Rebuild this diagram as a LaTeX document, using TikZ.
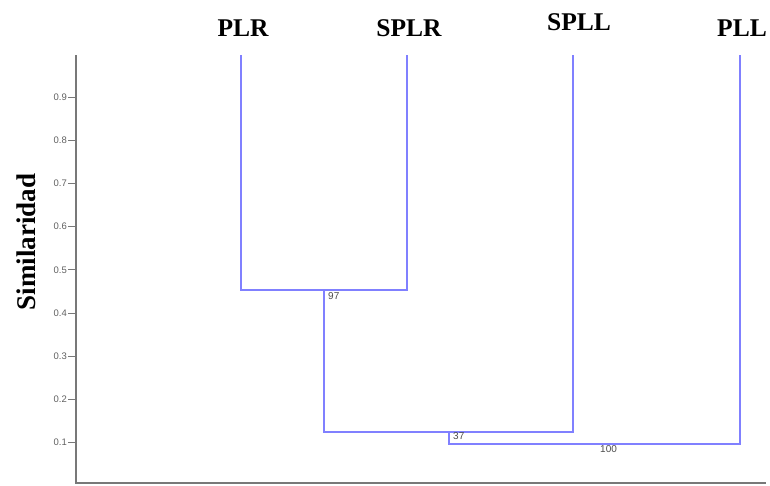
\documentclass[tikz,border=0pt]{standalone}
\usepackage{fontspec}
\setmainfont{Liberation Serif}
\newfontfamily\ticksans{Liberation Sans}
\definecolor{dendro}{RGB}{128,128,255}
\definecolor{axisgrey}{RGB}{120,120,120}
\begin{document}
\begin{tikzpicture}[x=1pt,y=-1pt,
  branch/.style={draw=dendro,line width=1.8pt},
  leaflabel/.style={font=\fontsize{25.5}{26}\selectfont\bfseries,inner sep=0pt},
  ticklabel/.style={font=\ticksans\fontsize{9.5}{10}\selectfont,text=axisgrey!80!black,anchor=east,inner sep=1pt},
  boot/.style={font=\ticksans\fontsize{10}{10}\selectfont,text=black!70,inner sep=0pt}]
\useasboundingbox (0,0) rectangle (770,485);
% axes
\coordinate (ytop) at (76,55);
\coordinate (origin) at (76,483);
\coordinate (xend) at (766,483);
\draw[axisgrey,line width=1.4pt] (ytop) -- (origin) -- (xend);
\foreach \v/\lab in {0.9/0.9,0.8/0.8,0.7/0.7,0.6/0.6,0.5/0.5,0.4/0.4,0.3/0.3,0.2/0.2,0.1/0.1}{
  \pgfmathsetmacro{\yy}{485.5-431.5*\v}
  \draw[axisgrey,line width=0.8pt] (68,\yy) -- (76,\yy);
  \node[ticklabel] at (68,\yy) {\lab};
}
\node[rotate=90,font=\fontsize{27}{27}\selectfont\bfseries] (ylab) at (26,242) {Similaridad};
% leaves
\coordinate (plr) at (241,55);
\coordinate (splr) at (407,55);
\coordinate (spll) at (573,55);
\coordinate (pll) at (740,55);
\node[leaflabel] (lplr) at (243,28) {PLR};
\node[leaflabel] (lsplr) at (409,28) {SPLR};
\node[leaflabel] (lspll) at (579,22) {SPLL};
\node[leaflabel] (lpll) at (742,28) {PLL};
% joins
\coordinate (j1l) at (241,290);
\coordinate (j1r) at (407,290);
\coordinate (j1) at (324,290);
\coordinate (j2l) at (324,432);
\coordinate (j2r) at (573,432);
\coordinate (j2) at (449,432);
\coordinate (j3l) at (449,444);
\coordinate (j3r) at (740,444);
\draw[branch] (plr) -- (j1l) -- (j1r) -- (splr);
\draw[branch] (j1) -- (j2l) -- (j2r) -- (spll);
\draw[branch] (j2) -- (j3l) -- (j3r) -- (pll);
\node[boot,anchor=north west] (b97) at (328,292) {97};
\node[boot,anchor=north west] (b37) at (453,432) {37};
\node[boot,anchor=north west] (b100) at (600,445) {100};
\end{tikzpicture}
\end{document}
